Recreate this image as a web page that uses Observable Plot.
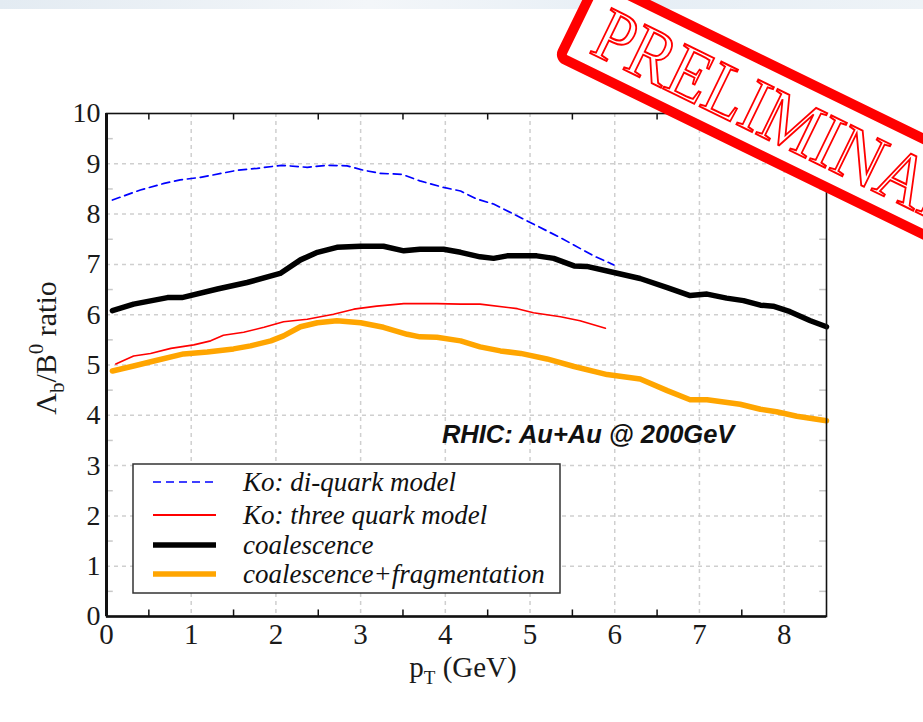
<!DOCTYPE html>
<html>
<head>
<meta charset="utf-8">
<script src="https://cdn.jsdelivr.net/npm/d3@7"></script>
<script src="https://cdn.jsdelivr.net/npm/@observablehq/plot@0.6"></script>
<style>
  html, body { margin: 0; padding: 0; background: white; overflow: hidden; width: 923px; height: 722px; }
  #wrap { position: relative; width: 923px; height: 722px; }
  #band { position: absolute; left: 0; top: 0; width: 923px; height: 9px;
          background: linear-gradient(to right, #e3ebf2, #f3f6f9 40%, #e6eef5 70%, #eef3f7); }
  #stamp { position: absolute; left: 0; top: 0; pointer-events: none; }
</style>
</head>
<body>
<div id="wrap"><div id="band"></div><div id="chart"></div></div>
<script>
// ---- data ----
const diquarkX = [0.07,0.40,0.68,0.87,1.11,1.54,1.78,2.07,2.37,2.60,2.84,3.04,3.23,3.49,3.70,3.98,4.18,4.37,4.57,4.96,5.36,5.75,5.99];
const diquarkY = [8.28,8.48,8.61,8.68,8.73,8.87,8.91,8.97,8.93,8.97,8.96,8.87,8.81,8.79,8.66,8.53,8.46,8.30,8.20,7.87,7.53,7.17,6.99];

const threeX = [0.11,0.32,0.52,0.76,1.03,1.23,1.38,1.62,1.86,2.09,2.37,2.68,2.92,3.19,3.51,3.90,4.18,4.41,4.85,5.04,5.36,5.59,5.89];
const threeY = [5.02,5.18,5.23,5.33,5.40,5.48,5.59,5.65,5.75,5.86,5.91,6.01,6.11,6.17,6.22,6.22,6.21,6.21,6.12,6.04,5.96,5.88,5.73];

const coalX = [0.07,0.32,0.72,0.89,1.31,1.66,2.05,2.29,2.49,2.72,3.00,3.27,3.51,3.70,3.98,4.18,4.41,4.57,4.73,5.08,5.28,5.52,5.67,5.99,6.30,6.62,6.89,7.09,7.32,7.52,7.72,7.87,8.07,8.31,8.50];
const coalY = [6.08,6.21,6.34,6.34,6.51,6.64,6.82,7.09,7.24,7.34,7.36,7.36,7.27,7.30,7.30,7.24,7.15,7.12,7.17,7.17,7.12,6.97,6.96,6.84,6.72,6.54,6.38,6.41,6.33,6.28,6.19,6.17,6.06,5.88,5.76];

const fragX = [0.07,0.32,0.56,0.91,1.19,1.50,1.70,1.94,2.09,2.29,2.49,2.72,3.00,3.27,3.55,3.70,3.90,4.18,4.41,4.65,4.89,5.20,5.52,5.91,6.30,6.62,6.89,7.09,7.48,7.72,7.91,8.15,8.50];
const fragY = [4.88,4.98,5.08,5.22,5.26,5.32,5.38,5.48,5.58,5.76,5.84,5.88,5.84,5.75,5.61,5.56,5.55,5.48,5.36,5.28,5.23,5.12,4.97,4.81,4.72,4.49,4.31,4.31,4.22,4.12,4.07,3.98,3.89];

const xTicks = [0,1,2,3,4,5,6,7,8];
const yTicks = [0,1,2,3,4,5,6,7,8,9,10];
const xGrid = [1,2,3,4,5,6,7,8];
const yGrid = [1,2,3,4,5,6,7,8,9];
const xMinor = [0.5,1.5,2.5,3.5,4.5,5.5,6.5,7.5];
const yMinor = [0.5,1.5,2.5,3.5,4.5,5.5,6.5,7.5,8.5,9.5];

const legendLabels = ["Ko: di-quark model", "Ko: three quark model", "coalescence", "coalescence+fragmentation"];
const annotation = "RHIC: Au+Au @ 200GeV";
const annotationPos = {x: 3.96, y: 3.45};
const stampText = "PRELIMINARY";

const zip = (xs, ys) => xs.map((x, i) => ({x, y: ys[i]}));
const diquark = zip(diquarkX, diquarkY);
const three = zip(threeX, threeY);
const coal = zip(coalX, coalY);
const frag = zip(fragX, fragY);

const serif = "Liberation Serif, Times New Roman, serif";

const svg = Plot.plot({
  width: 923,
  height: 722,
  marginLeft: 106,
  marginRight: 97,
  marginTop: 113,
  marginBottom: 106,
  x: {domain: [0, 8.5], axis: null},
  y: {domain: [0, 10], axis: null},
  style: {fontFamily: serif, background: "transparent", overflow: "visible"},
  marks: [
    Plot.ruleX(xGrid, {x: d => d, stroke: "#cfcfcf", strokeWidth: 1.5, strokeDasharray: "4,4"}),
    Plot.ruleY(yGrid, {y: d => d, stroke: "#cfcfcf", strokeWidth: 1.5, strokeDasharray: "4,4"}),
    Plot.line(frag, {x: "x", y: "y", stroke: "#ffa500", strokeWidth: 5.5}),
    Plot.line(three, {x: "x", y: "y", stroke: "#ff0000", strokeWidth: 1.6}),
    Plot.line(coal, {x: "x", y: "y", stroke: "#000000", strokeWidth: 5.5}),
    Plot.line(diquark, {x: "x", y: "y", stroke: "#0000ff", strokeWidth: 1.7, strokeDasharray: "8,5"}),
    // minor ticks
    Plot.ruleX(xMinor, {x: d => d, y1: 0, y2: 0.13, stroke: "#111", strokeWidth: 1.5}),
    Plot.ruleX(xMinor, {x: d => d, y1: 10, y2: 9.87, stroke: "#111", strokeWidth: 1.5}),
    Plot.ruleY(yMinor, {y: d => d, x1: 0, x2: 0.08, stroke: "#c8c8c8", strokeWidth: 1.5}),
    Plot.ruleY(yMinor, {y: d => d, x1: 8.5, x2: 8.42, stroke: "#c8c8c8", strokeWidth: 1.5}),
    Plot.frame({stroke: "#111", strokeWidth: 1.6}),
    Plot.ruleX([0], {stroke: "#111", strokeWidth: 3}),
    Plot.ruleY([0], {stroke: "#111", strokeWidth: 2.5}),
    // tick labels
    Plot.text(xTicks, {x: d => d, frameAnchor: "bottom", dy: 18, text: d => String(d), lineAnchor: "middle",
      fontSize: 29, fill: "#1a1a1a", fontFamily: serif}),
    Plot.text(yTicks, {y: d => d, frameAnchor: "left", dx: -6, text: d => String(d), textAnchor: "end", lineAnchor: "middle",
      fontSize: 28, fill: "#1a1a1a", fontFamily: serif}),
    Plot.text([annotation], {x: annotationPos.x, y: annotationPos.y, text: d => d, textAnchor: "start", lineAnchor: "bottom",
      fontSize: 25.5, fontWeight: "bold", fontStyle: "italic", fill: "#111",
      fontFamily: "Liberation Sans, Arial, sans-serif"})
  ]
});

const s = d3.select(svg);

// x-axis label p_T (GeV)
const xl = s.append("text").attr("x", 463).attr("y", 677).attr("text-anchor", "middle")
  .attr("font-family", serif).attr("font-size", 29).attr("fill", "#1a1a1a");
xl.append("tspan").text("p");
xl.append("tspan").attr("font-size", 19).attr("dy", 7).text("T");
xl.append("tspan").attr("dy", -7).text(" (GeV)");

// y-axis label Λb/B0 ratio
const yl = s.append("text").attr("transform", "translate(56,348) rotate(-90)").attr("text-anchor", "middle")
  .attr("font-family", serif).attr("font-size", 30).attr("fill", "#1a1a1a");
yl.append("tspan").text("Λ");
yl.append("tspan").attr("font-size", 21).attr("dy", 8).text("b");
yl.append("tspan").attr("dy", -8).text("/B");
yl.append("tspan").attr("font-size", 21).attr("dy", -13).text("0");
yl.append("tspan").attr("dy", 13).text(" ratio");

// legend
const lg = s.append("g").attr("text-anchor", "start");
lg.append("rect").attr("x", 133).attr("y", 464).attr("width", 427).attr("height", 129)
  .attr("fill", "white").attr("stroke", "#333").attr("stroke-width", 1.5);
const styles = [
  {stroke: "#0000ff", w: 1.7, dash: "8,5"},
  {stroke: "#ff0000", w: 1.8, dash: null},
  {stroke: "#000000", w: 5.5, dash: null},
  {stroke: "#ffa500", w: 5.5, dash: null}
];
const rows = [482, 515, 545, 574];
legendLabels.forEach((lab, i) => {
  const st = styles[i];
  const ln = lg.append("line").attr("x1", 153).attr("x2", 216).attr("y1", rows[i]).attr("y2", rows[i])
    .attr("stroke", st.stroke).attr("stroke-width", st.w);
  if (st.dash) ln.attr("stroke-dasharray", st.dash);
  lg.append("text").attr("x", 243).attr("y", rows[i]).attr("dy", "0.32em").attr("text-anchor", "start")
    .attr("font-family", serif).attr("font-style", "italic").attr("font-size", 27).attr("fill", "#111")
    .text(lab);
});

document.getElementById("chart").appendChild(svg);

// PRELIMINARY stamp overlay
const st = d3.select("#wrap").append("svg").attr("id", "stamp").attr("width", 923).attr("height", 722);
const g = st.append("g").attr("transform", "translate(588,52) rotate(26)");
g.append("rect").attr("x", -23).attr("y", -69).attr("width", 640).attr("height", 86).attr("rx", 6)
  .attr("fill", "white").attr("stroke", "#ff0000").attr("stroke-width", 10);
g.append("text").attr("x", 0).attr("y", 0).attr("font-family", serif).attr("font-size", 76)
  .attr("text-anchor", "start").attr("textLength", 451).attr("lengthAdjust", "spacingAndGlyphs")
  .attr("fill", "white").attr("stroke", "#ff0000").attr("stroke-width", 2).text(stampText);
</script>
</body>
</html>
